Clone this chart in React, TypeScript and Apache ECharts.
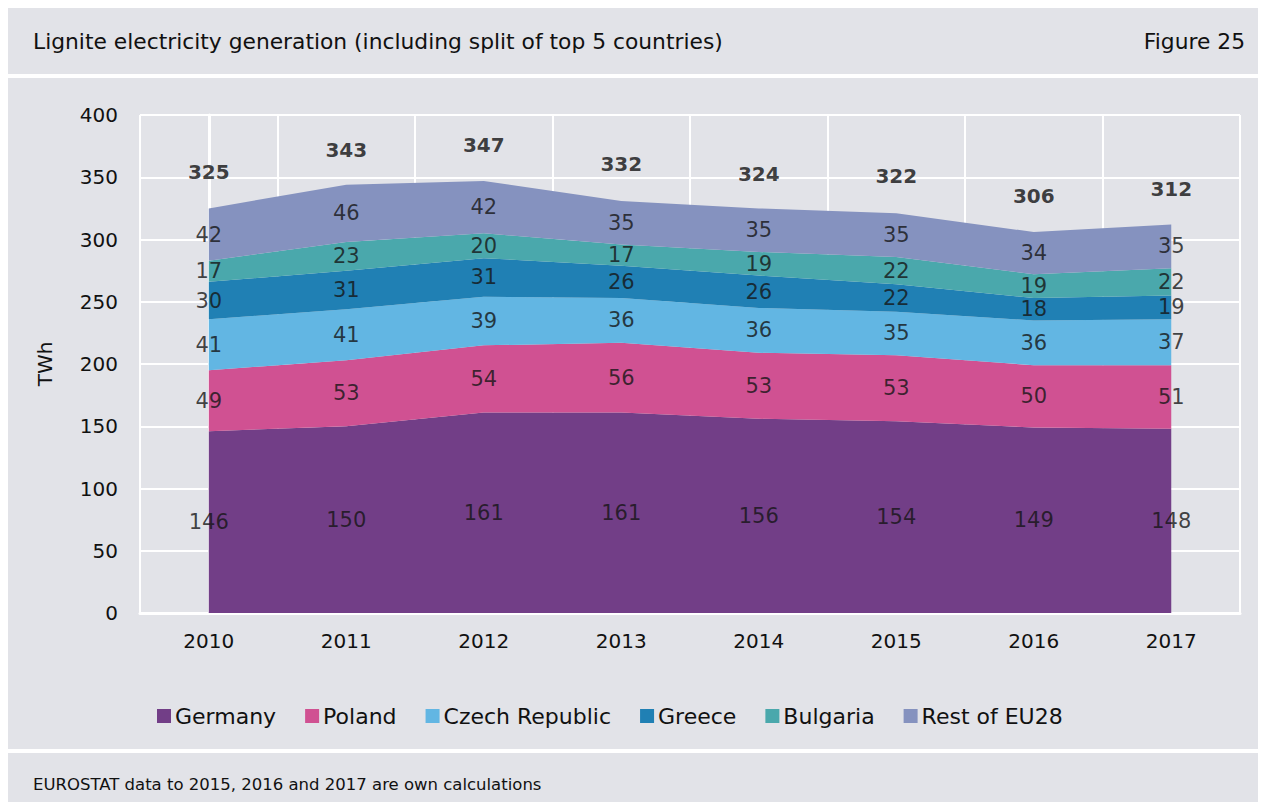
import React, { useEffect, useRef } from "react";
import * as echarts from "echarts";

const years = ["2010", "2011", "2012", "2013", "2014", "2015", "2016", "2017"];
const germany = [146, 150, 161, 161, 156, 154, 149, 148];
const poland = [49, 53, 54, 56, 53, 53, 50, 51];
const czech = [41, 41, 39, 36, 36, 35, 36, 37];
const greece = [30, 31, 31, 26, 26, 22, 18, 19];
const bulgaria = [17, 23, 20, 17, 19, 22, 19, 22];
const rest = [42, 46, 42, 35, 35, 35, 34, 35];
const totals = [325, 343, 347, 332, 324, 322, 306, 312];
const yTicks = [0, 50, 100, 150, 200, 250, 300, 350, 400];

const seriesDefs = [
  { name: "Germany", data: germany, color: "#723e87" },
  { name: "Poland", data: poland, color: "#d05192" },
  { name: "Czech Republic", data: czech, color: "#62b6e3" },
  { name: "Greece", data: greece, color: "#2080b4" },
  { name: "Bulgaria", data: bulgaria, color: "#4aa8ac" },
  { name: "Rest of EU28", data: rest, color: "#8592bf" },
];

const FONT = "DejaVu Sans";

export default function App() {
  const ref = useRef<HTMLDivElement>(null);
  useEffect(() => {
    if (!ref.current) return;
    const chart = echarts.init(ref.current, null, { renderer: "svg" });
    const areaSeries: any[] = seriesDefs.map((s) => ({
      name: s.name,
      type: "line",
      stack: "total",
      data: s.data,
      symbol: "none",
      lineStyle: { width: 0 },
      itemStyle: { color: s.color },
      areaStyle: { color: s.color, opacity: 1 },
      z: 2,
    }));
    const cum = years.map(() => 0);
    const labelSeries: any[] = seriesDefs.map((s) => {
      const pts = s.data.map((v, i) => {
        const mid = cum[i] + v / 2;
        cum[i] += v;
        return { value: [i, mid], lab: v };
      });
      return {
        type: "scatter",
        data: pts,
        symbolSize: 0,
        silent: true,
        z: 5,
        label: {
          show: true,
          position: "inside",
          formatter: (p: any) => String(p.data.lab),
          color: "#151515",
          fontSize: 21,
          fontFamily: FONT,
        },
      };
    });
    const totalSeries = {
      type: "scatter",
      data: totals.map((t, i) => [i, t]),
      symbolSize: 0,
      silent: true,
      z: 5,
      label: {
        show: true,
        position: "top",
        distance: 26,
        formatter: (p: any) => String(p.value[1]),
        color: "#111",
        fontSize: 20,
        fontWeight: "bold",
        fontFamily: FONT,
      },
    };
    chart.setOption({
      animation: false,
      backgroundColor: "#e2e3e8",
      textStyle: { fontFamily: FONT },
      graphic: [
        { type: "text", left: 25, top: 22, style: { text: "Lignite electricity generation (including split of top 5 countries)", fontSize: 21.8, fontFamily: FONT, fill: "#111" } },
        { type: "text", right: 13, top: 22, style: { text: "Figure 25", fontSize: 21.8, fontFamily: FONT, fill: "#111" } },
        { type: "rect", shape: { x: 0, y: 66, width: 1250, height: 4 }, style: { fill: "#ffffff" } },
        { type: "rect", shape: { x: 0, y: 741, width: 1250, height: 4 }, style: { fill: "#ffffff" } },
        { type: "text", left: 25, top: 768, style: { text: "EUROSTAT data to 2015, 2016 and 2017 are own calculations", fontSize: 16.5, fontFamily: FONT, fill: "#111" } },
      ],
      legend: {
        left: 144,
        top: 692,
        itemWidth: 14,
        itemHeight: 14,
        itemGap: 29,
        icon: "rect",
        data: seriesDefs.map((s) => s.name),
        textStyle: { fontSize: 22, fontFamily: FONT, color: "#111", padding: [0, 0, 0, -1] },
      },
      grid: { left: 132, right: 18, top: 107, bottom: 189 },
      xAxis: [
        {
          type: "category",
          data: years,
          boundaryGap: true,
          axisLine: { lineStyle: { color: "#ffffff", width: 3 } },
          axisTick: { show: false },
          axisLabel: { fontSize: 20, color: "#111", margin: 18, fontFamily: FONT },
          splitLine: { show: true, interval: 0, lineStyle: { color: "#ffffff", width: 2 } },
        },
        {
          type: "value",
          min: -0.5,
          max: 7.5,
          show: false,
        },
      ],
      yAxis: {
        type: "value",
        min: 0,
        max: 400,
        interval: 50,
        name: "TWh",
        nameLocation: "middle",
        nameGap: 85,
        nameRotate: 90,
        nameTextStyle: { fontSize: 20, color: "#111", fontFamily: FONT },
        axisLine: { show: true, lineStyle: { color: "#ffffff", width: 3 } },
        axisTick: { show: false },
        axisLabel: { fontSize: 20, color: "#111", margin: 22, fontFamily: FONT, formatter: (v: number) => (yTicks.includes(v) ? String(v) : "") },
        splitLine: { lineStyle: { color: "#ffffff", width: 2 } },
      },
      series: [
        ...areaSeries,
        ...labelSeries.map((s) => ({ ...s, xAxisIndex: 1 })),
        { ...totalSeries, xAxisIndex: 1 },
      ],
    });
    return () => chart.dispose();
  }, []);
  return <div ref={ref} style={{ width: 1250, height: 794 }} />;
}
